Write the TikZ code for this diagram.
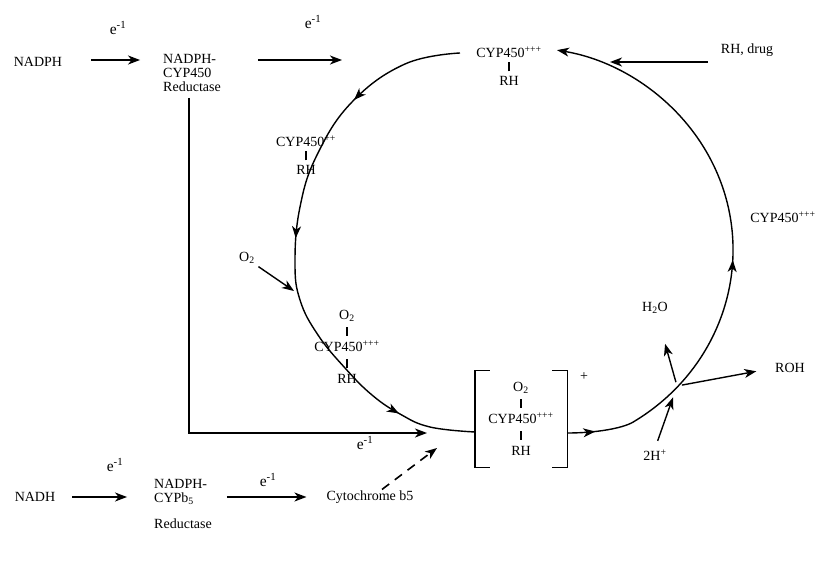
\documentclass[tikz,border=0pt]{standalone}
\usepackage{fontspec}
\setmainfont{Liberation Serif}
\usetikzlibrary{arrows.meta,calc,positioning,decorations.markings}

\tikzset{
  lbl/.style={font=\fontsize{14}{14}\selectfont, inner sep=1pt, align=center},
  elbl/.style={lbl, font=\fontsize{15.5}{15}\selectfont},
  rxn/.style={-{Stealth[length=12pt,width=9pt,inset=3.5pt]}, line width=1.4pt},
  cyc/.style={line width=1.4pt},
  markat/.style={postaction={decorate,decoration={markings,
      mark=at position #1 with {\arrow{Stealth[length=12pt,width=9pt,inset=3.5pt]}}}}},
}
\newcommand{\bondbar}{\rule{1.1pt}{9pt}}

\begin{document}
\begin{tikzpicture}[x=1pt, y=-1pt]
\useasboundingbox (0,0) rectangle (825,562);
% --- NADPH supply (top) ---
\node[lbl] (nadph) at (38,62) {NADPH};
\node[lbl, align=left] (redA) at (192,73) {NADPH-\\CYP450\\Reductase};
\node[elbl] (eA) at (118,28) {e\textsuperscript{-1}};
\node[elbl] (eB) at (313,22) {e\textsuperscript{-1}};
\coordinate (inA) at (342,60);
\coordinate (tipA) at (427,433);
\draw[rxn, shorten <=28pt, shorten >=22pt] (nadph.east |- inA) -- (redA.west |- inA);
\draw[rxn, shorten <=36pt] (redA.east |- inA) -- (inA);
\draw[rxn, shorten <=5pt] ([xshift=-3pt]redA.south) |- (tipA);

% --- P450 cycle ---
\draw[cyc, markat=0.21, markat=0.48, markat=0.86] plot[smooth, tension=0.7] coordinates
  {(460,53) (405,64) (352,102) (317,155) (300,207) (295,262) (300,300) (318,335)
   (345,368) (372,395) (400,414) (430,427) (475,432)};
\draw[cyc, markat=0.05, markat=0.47, -{Stealth[length=12pt,width=9pt,inset=3.5pt]}]
  (567,433) .. controls (597,433) and (622.7,428.1) .. (632.9,422.2)
  arc[start angle=58, end angle=-80, x radius=213, y radius=203];

\node[lbl] (cypTop) at (509,66) {CYP450\textsuperscript{+++}\\\bondbar\\RH};
\node[lbl] (cypTwo) at (306,155) {CYP450\textsuperscript{++}\\\bondbar\\RH};
\node[lbl] (cypOx) at (347,347) {O\textsubscript{2}\\[2pt]\bondbar\\[2pt]CYP450\textsuperscript{+++}\\[2pt]\bondbar\\[2pt]RH};
\node[lbl] (cypRt) at (783,217) {CYP450\textsuperscript{+++}};

% bracketed complex
\node[lbl, minimum width=92pt, minimum height=97pt] (cpx) at (521,419)
  {O\textsubscript{2}\\[2pt]\bondbar\\[2pt]CYP450\textsuperscript{+++}\\[2pt]\bondbar\\[2pt]RH};
\draw[cyc] ([xshift=15pt]cpx.north west) -- (cpx.north west) -- (cpx.south west) -- ([xshift=15pt]cpx.south west);
\draw[cyc] ([xshift=-15pt]cpx.north east) -- (cpx.north east) -- (cpx.south east) -- ([xshift=-15pt]cpx.south east);
\node[lbl] (chg) at (584,377) {+};

% inputs and outputs
\node[lbl] (drug) at (747,50) {RH, drug};
\coordinate (drugin) at (610,62);
\draw[rxn, shorten <=12pt] (drugin -| drug.west) -- (drugin);
\node[lbl] (o2a) at (247,258) {O\textsubscript{2}};
\coordinate (o2in) at (294,291);
\draw[rxn, shorten <=3pt] (o2a.south east) -- (o2in);

\coordinate (xing) at (677,386);
\node[lbl] (h2o) at (655,308) {H\textsubscript{2}O};
\node[lbl] (roh) at (790,368) {ROH};
\node[lbl] (hplus) at (655,455) {2H\textsuperscript{+}};
\draw[rxn, shorten <=4pt, shorten >=30pt] (xing) -- (h2o);
\draw[rxn, shorten <=5pt, shorten >=18pt] (xing) -- (roh.west);
\draw[rxn, shorten <=8pt, shorten >=12pt] (hplus.north) -- (xing);

% --- NADH supply (bottom) ---
\node[lbl] (nadh) at (35,497) {NADH};
\node[lbl, align=left] (redB) at (183,504) {NADPH-\\CYPb\textsubscript{5}\\[12pt]Reductase};
\node[lbl] (cytb5) at (370,497) {Cytochrome b5};
\node[elbl] (eC) at (115,465) {e\textsuperscript{-1}};
\node[elbl] (eD) at (268,480) {e\textsuperscript{-1}};
\node[elbl] (eE) at (365,443) {e\textsuperscript{-1}};
\coordinate (dashin) at (437,448);
\draw[rxn, shorten <=16pt, shorten >=26pt] (nadh.east) -- (nadh.east -| redB.west);
\draw[rxn, shorten <=14pt, shorten >=19pt] (redB.east |- cytb5.west) -- (cytb5.west);
\draw[rxn, dash pattern=on 9pt off 7pt, line width=1.6pt] ([xshift=12pt]cytb5.north) -- (dashin);
\end{tikzpicture}
\end{document}
